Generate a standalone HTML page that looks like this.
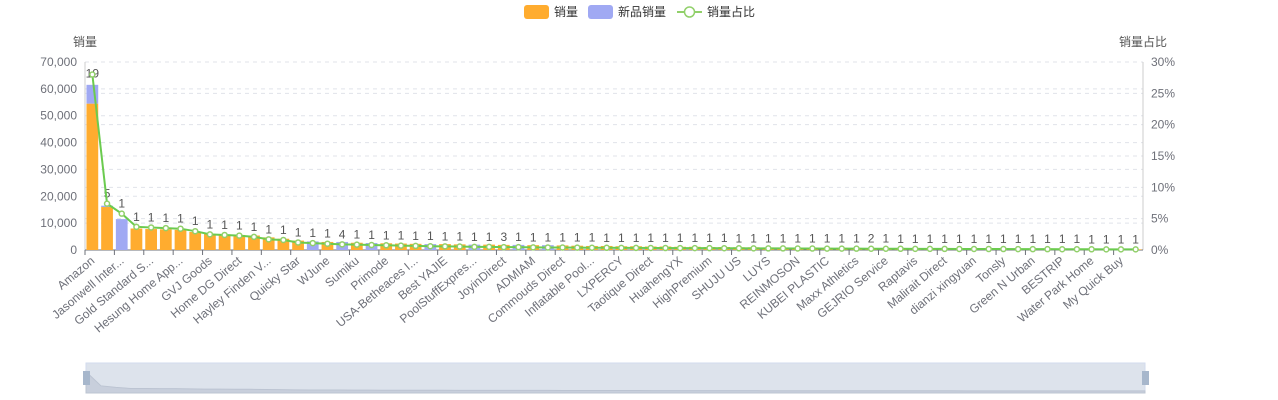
<!DOCTYPE html>
<html><head><meta charset="utf-8"><style>
html,body{margin:0;padding:0;background:#fff;}
svg{display:block;font-family:"Liberation Sans","Noto Sans CJK SC",sans-serif;}
</style></head><body>
<svg id="chart" width="1278" height="400" viewBox="0 0 1278 400" xmlns="http://www.w3.org/2000/svg">
<g>
 <g><rect x="524" y="5" width="25" height="14" rx="3" fill="#ffac2f"/><text x="554" y="16" font-size="12" fill="#333">销量</text></g>
 <g><rect x="588" y="5" width="25" height="14" rx="3" fill="#a0a9f3"/><text x="618" y="16" font-size="12" fill="#333">新品销量</text></g>
 <g><line x1="677" y1="12" x2="702" y2="12" stroke="#91d06a" stroke-width="2"/><circle cx="689.5" cy="12" r="5" fill="#fff" stroke="#91d06a" stroke-width="1.5"/><text x="707" y="16" font-size="12" fill="#333">销量占比</text></g>
</g>
<text x="85" y="46" font-size="12" fill="#555" text-anchor="middle">销量</text>
<text x="1143" y="46" font-size="12" fill="#555" text-anchor="middle">销量占比</text>
<g id="grid"></g><g id="bars"></g><g id="line"></g><g id="xlabels"></g>
<g>
 <rect x="86" y="363" width="1059" height="30" fill="#dde3ec" stroke="#d2dbee"/>
 <path id="zoomline" fill="#c8cfdc" stroke="#bcc4d2" stroke-width="1"/>
 <rect x="83" y="371" width="7" height="14" fill="#a7b7cc"/>
 <rect x="1142" y="371" width="7" height="14" fill="#a7b7cc"/>
</g>
</svg>
<script>
const categories=["Amazon","Store B1","Jasonwell International","Store B2","Gold Standard Supply","Store B3","Hesung Home Appliance","Store B4","GVJ Goods","Store B5","Home DG Direct","Store B6","Hayley Finden Ventures","Store B7","Quicky Star","Store B8","WJune","Store B9","Sumiku","Store B10","Primode","Store B11","USA-Betheaces Inc","Store B12","Best YAJIE","Store B13","PoolStuffExpress","Store B14","JoyinDirect","Store B15","ADMIAM","Store B16","Commouds Direct","Store B17","Inflatable Pool Co","Store B18","LXPERCY","Store B19","Taotique Direct","Store B20","HuahengYX","Store B21","HighPremium","Store B22","SHUJU US","Store B23","LUYS","Store B24","REINMOSON","Store B25","KUBEI PLASTIC","Store B26","Maxx Athletics","Store B27","GEJRIO Service","Store B28","Raptavis","Store B29","Malirait Direct","Store B30","dianzi xingyuan","Store B31","Tonsly","Store B32","Green N Urban","Store B33","BESTRIP","Store B34","Water Park Home","Store B35","My Quick Buy","Store B36"];
const salesValues=[54500,16000,0,8000,7800,7700,7500,6700,6000,5800,5600,5400,4700,4200,3500,0,3000,0,2700,0,2500,2400,2300,0,2200,2100,0,2000,1900,0,1800,0,1700,1600,1500,1500,1400,1400,1300,1300,1200,1200,1100,1100,1000,1000,950,900,900,850,800,800,750,700,700,650,650,600,600,550,550,500,500,450,450,400,400,350,350,300,300,250];
const newValues=[7000,500,11500,0,0,0,0,0,0,0,0,0,0,0,0,3200,0,3000,0,2600,0,0,0,2200,0,0,2000,0,0,1900,0,1800,0,0,0,0,0,0,0,0,0,0,0,0,0,0,0,0,0,0,0,0,0,0,0,0,0,0,0,0,0,0,0,0,0,0,0,0,0,0,0,0];
const shareValues=[28,7.4,5.8,3.7,3.6,3.5,3.4,3.0,2.5,2.4,2.3,2.1,1.7,1.6,1.2,1.1,1.0,0.9,0.85,0.8,0.75,0.7,0.65,0.6,0.58,0.55,0.5,0.5,0.45,0.45,0.42,0.4,0.4,0.38,0.36,0.35,0.34,0.33,0.32,0.31,0.3,0.3,0.29,0.28,0.27,0.26,0.25,0.25,0.24,0.23,0.22,0.22,0.21,0.2,0.2,0.19,0.18,0.18,0.17,0.16,0.16,0.15,0.15,0.14,0.13,0.13,0.12,0.12,0.11,0.1,0.1,0.1];
const countLabels=[19,5,1,1,1,1,1,1,1,1,1,1,1,1,1,1,1,4,1,1,1,1,1,1,1,1,1,1,3,1,1,1,1,1,1,1,1,1,1,1,1,1,1,1,1,1,1,1,1,1,1,1,1,2,1,1,1,1,1,1,1,1,1,1,1,1,1,1,1,1,1,1];
const leftTicks=[0,10000,20000,30000,40000,50000,60000,70000];
const rightTicks=[0,5,10,15,20,25,30];
const X0=85,X1=1143,Y0=250,Y1=62,LMAX=70000,RMAX=30;
const n=categories.length, bw=(X1-X0)/n;
const xc=i=>X0+bw*(i+0.5);
const yl=v=>Y0-(v/LMAX)*(Y0-Y1);
const yr=v=>Y0-(v/RMAX)*(Y0-Y1);
const NS="http://www.w3.org/2000/svg";
function mk(t,a,p){const e=document.createElementNS(NS,t);for(const k in a)e.setAttribute(k,a[k]);p.appendChild(e);return e;}
const grid=document.getElementById('grid');
leftTicks.forEach(t=>{const y=yl(t);
 if(t>0){const g=mk('line',{x1:X0,x2:X1,y1:y,y2:y,stroke:'#e0e3ea','stroke-dasharray':'4,4'},grid);
 
 }
 const tx=mk('text',{x:X0-8,y:y+4,'font-size':12,fill:'#6e7079','text-anchor':'end'},grid);tx.textContent=t.toLocaleString('en-US');
 
 });
rightTicks.forEach(t=>{const y=yr(t);
 if(t>0){const g=mk('line',{x1:X0,x2:X1,y1:y,y2:y,stroke:'#e0e3ea','stroke-dasharray':'4,4'},grid);
 
 }
 const tx=mk('text',{x:X1+8,y:y+4,'font-size':12,fill:'#6e7079'},grid);tx.textContent=t+'%';
 
 });
mk('line',{x1:X0,x2:X0,y1:Y1,y2:Y0,stroke:'#ccc'},grid);
mk('line',{x1:X1,x2:X1,y1:Y1,y2:Y0,stroke:'#ccc'},grid);
mk('line',{x1:X0,x2:X1,y1:Y0,y2:Y0,stroke:'#6e7079'},grid);
const bars=document.getElementById('bars');
for(let i=0;i<n;i++){const x=xc(i)-bw*0.4,w=bw*0.8;
 const s=salesValues[i]||0,nv=newValues[i]||0;
 if(s>0){const r=mk('rect',{x:x,y:yl(s),width:w,height:Y0-yl(s),fill:'#ffac2f'},bars);
  
  }
 if(nv>0){const r=mk('rect',{x:x,y:yl(s+nv),width:w,height:yl(s)-yl(s+nv),fill:'#a0a9f3'},bars);
  
  }
 const t=mk('text',{x:xc(i),y:yr(shareValues[i])-(i==0?-3:6),'font-size':12,fill:'#555','text-anchor':'middle'},bars);
 t.textContent=countLabels[i];
 
 
 if(i%2==0){mk('line',{x1:X0+bw*i,x2:X0+bw*i,y1:Y0,y2:Y0+5,stroke:'#6e7079'},bars);}
}
const lg=document.getElementById('line');
let d='';shareValues.forEach((v,i)=>{d+=(i?'L':'M')+xc(i)+','+yr(v);});
const pl=mk('path',{d:d,fill:'none',stroke:'#6bcb4f','stroke-width':2},lg);


shareValues.forEach((v,i)=>{const c=mk('circle',{cx:xc(i),cy:yr(v),r:2.5,fill:'#fff',stroke:'#91d06a','stroke-width':1.5},lg);
 
 });
const xl=document.getElementById('xlabels');
categories.forEach((c,i)=>{if(i%2)return;let s=c.length>15?c.slice(0,15)+'...':c;
 const t=mk('text',{x:0,y:0,'font-size':12,fill:'#6e7079','text-anchor':'end',transform:`translate(${xc(i)+3},${Y0+12}) rotate(-40)`},xl);
 t.textContent=s;
 
 });
const sw=(1145-86)/(n-1);let zd='M86,393';
for(let i=0;i<n;i++){zd+='L'+(86+sw*i)+','+(393-(((salesValues[i]||0)+(newValues[i]||0))/LMAX)*22-2);}
zd+='L1145,393Z';document.getElementById('zoomline').setAttribute('d',zd);
</script>
</body></html>
